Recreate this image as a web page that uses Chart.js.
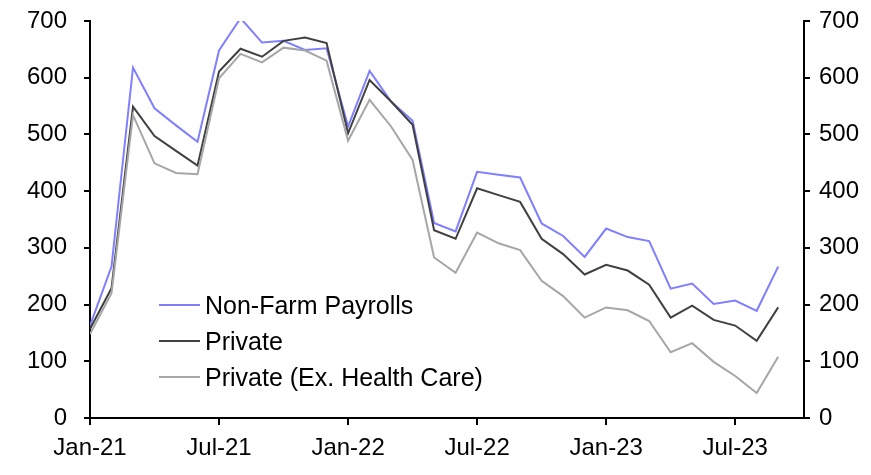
<!DOCTYPE html>
<html>
<head>
<meta charset="utf-8">
<script src="https://cdn.jsdelivr.net/npm/chart.js@4.4.1/dist/chart.umd.min.js"></script>
<style>
  html, body { margin: 0; padding: 0; background: #fff; }
  #wrap { position: relative; width: 871px; height: 475px; }
  canvas { display: block; }
  #legend { position: absolute; left: 159px; top: 287px; font-family: "Liberation Sans", Arial, sans-serif; font-size: 25px; color: #000; }
  .row { display: flex; align-items: center; height: 36px; }
  .swatch { width: 41px; height: 2px; margin-right: 5px; }
</style>
</head>
<body>
<div id="wrap">
  <canvas id="c" width="871" height="475"></canvas>
  <div id="legend"></div>
</div>
<script>
const months = ['Jan-21','Feb-21','Mar-21','Apr-21','May-21','Jun-21','Jul-21','Aug-21','Sep-21','Oct-21','Nov-21','Dec-21',
                'Jan-22','Feb-22','Mar-22','Apr-22','May-22','Jun-22','Jul-22','Aug-22','Sep-22','Oct-22','Nov-22','Dec-22',
                'Jan-23','Feb-23','Mar-23','Apr-23','May-23','Jun-23','Jul-23','Aug-23','Sep-23'];
const nonFarmPayrolls = [163,267,618,546,516,487,648,705,662,665,649,652,
                         514,612,558,524,344,329,434,429,424,343,321,284,
                         334,319,312,228,237,201,207,189,267];
const privatePayrolls = [157,229,549,497,471,445,611,651,637,665,671,661,
                         502,596,558,517,331,316,405,393,381,316,289,253,
                         270,260,235,177,198,173,163,136,195];
const privateExHealthCare = [148,220,534,449,432,430,599,642,627,653,648,630,
                             489,561,514,455,283,256,327,308,296,242,215,177,
                             195,190,171,116,132,99,74,44,108];
const seriesNames = ['Non-Farm Payrolls','Private','Private (Ex. Health Care)'];
const seriesColors = ['#7f7fff','#404040','#a6a6a6'];
const xTickLabels = ['Jan-21','Jul-21','Jan-22','Jul-22','Jan-23','Jul-23'];

const FONT = "'Liberation Sans', Arial, sans-serif";
const toPts = arr => arr.map((v, i) => ({ x: i, y: v }));
const seriesData = [nonFarmPayrolls, privatePayrolls, privateExHealthCare];

const datasets = seriesData.map((d, k) => ({
  label: seriesNames[k],
  data: toPts(d),
  borderColor: seriesColors[k],
  backgroundColor: seriesColors[k],
  borderWidth: 2,
  pointRadius: 0,
  tension: 0,
  yAxisID: 'y'
})).reverse();

const axisCommon = {
  grid: { drawOnChartArea: false, drawTicks: true, tickLength: 6, color: '#000', lineWidth: 2 },
  border: { display: true, color: '#000', width: 2 }
};
const fitY = w => s => { s.width = w; s.paddingTop = 0; s.paddingBottom = 0; };

new Chart(document.getElementById('c'), {
  type: 'line',
  data: { datasets },
  options: {
    responsive: false,
    devicePixelRatio: 1,
    animation: false,
    layout: { padding: { top: 21 } },
    plugins: { legend: { display: false }, tooltip: { enabled: false } },
    scales: {
      x: {
        type: 'linear', position: 'bottom', min: 0, max: 33.2,
        ...axisCommon,
        grid: { ...axisCommon.grid, tickLength: 7 },
        ticks: {
          stepSize: 6, includeBounds: false, autoSkip: false, maxRotation: 0,
          padding: 9, color: '#000', font: { family: FONT, size: 24 },
          callback: v => xTickLabels[v / 6] ?? ''
        },
        afterFit: s => { s.height = 57; s.paddingLeft = 0; s.paddingRight = 0; }
      },
      y: {
        type: 'linear', position: 'left', min: 0, max: 700,
        ...axisCommon,
        ticks: { stepSize: 100, padding: 17, color: '#000', font: { family: FONT, size: 24 } },
        afterFit: fitY(90)
      },
      y2: {
        type: 'linear', position: 'right', min: 0, max: 700,
        ...axisCommon,
        ticks: { stepSize: 100, padding: 9, color: '#000', font: { family: FONT, size: 24 } },
        afterFit: fitY(67)
      }
    }
  }
});

const legend = document.getElementById('legend');
seriesNames.forEach((name, k) => {
  const row = document.createElement('div');
  row.className = 'row';
  const sw = document.createElement('div');
  sw.className = 'swatch';
  sw.style.background = seriesColors[k];
  const tx = document.createElement('span');
  tx.textContent = name;
  row.appendChild(sw); row.appendChild(tx);
  legend.appendChild(row);
});
</script>
</body>
</html>
